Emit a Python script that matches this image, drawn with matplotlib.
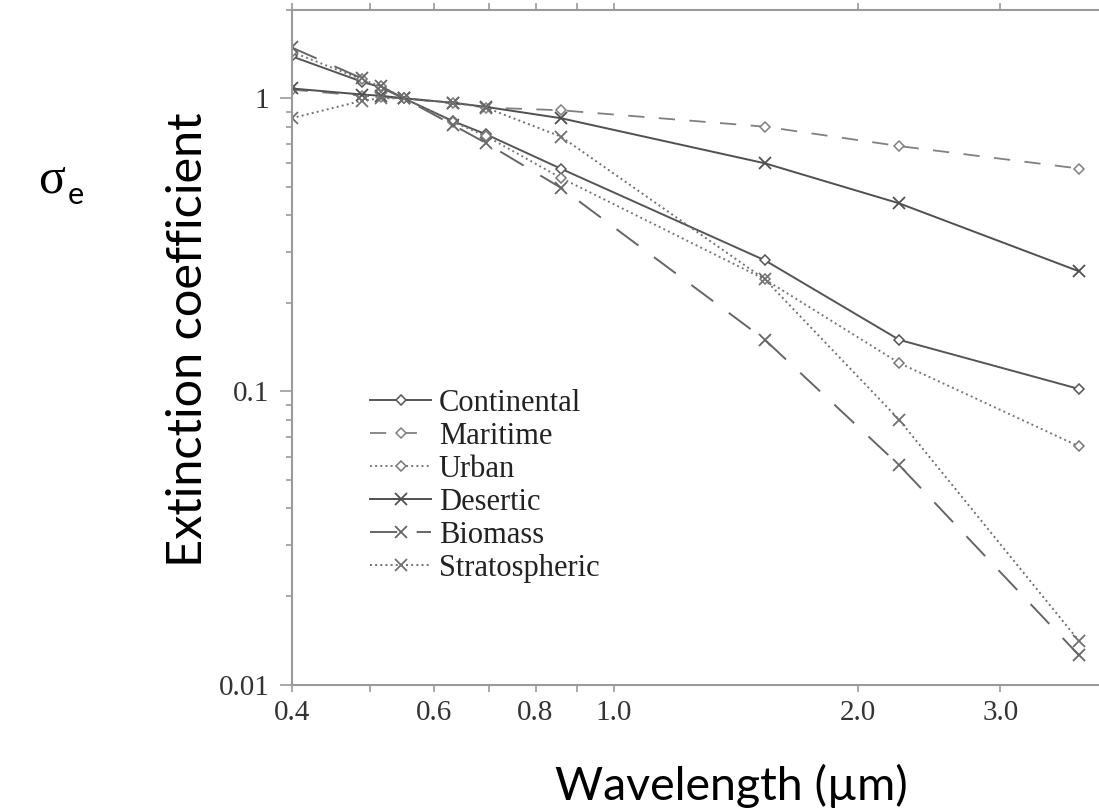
import numpy as np
import matplotlib.pyplot as plt
from matplotlib.ticker import FixedLocator, NullFormatter, LogLocator

# wavelengths (um) and normalized extinction coefficient per aerosol type
wavelength = [0.4, 0.488, 0.515, 0.55, 0.633, 0.694, 0.86, 1.536, 2.25, 3.75]
continental = [1.39, 1.14, 1.09, 1.0, 0.835, 0.755, 0.575, 0.28, 0.15, 0.102]
maritime = [1.07, 1.02, 1.01, 1.0, 0.96, 0.93, 0.91, 0.80, 0.687, 0.576]
urban = [1.44, 1.16, 1.10, 1.0, 0.83, 0.745, 0.535, 0.241, 0.125, 0.065]
desertic = [1.08, 1.03, 1.02, 1.0, 0.965, 0.935, 0.855, 0.60, 0.438, 0.257]
biomass = [1.49, 1.17, 1.10, 1.0, 0.81, 0.705, 0.495, 0.15, 0.056, 0.0126]
stratospheric = [0.855, 0.98, 1.0, 1.0, 0.965, 0.93, 0.74, 0.241, 0.080, 0.0141]

xticks = [0.4, 0.6, 0.8, 1.0, 2.0, 3.0]
xtick_labels = ['0.4', '0.6', '0.8', '1.0', '2.0', '3.0']
xminor = [0.5, 0.7, 0.9]
yticks = [0.01, 0.1, 1]
ytick_labels = ['0.01', '0.1', '1']

serif = 'Liberation Serif'
sans = 'Lato'

fig = plt.figure(figsize=(10.99, 8.10), dpi=100)
ax = fig.add_axes([291.7 / 1099, 1 - 684.7 / 810, 810 / 1099, 674.7 / 810])

dia = dict(marker='D', markersize=5.5, markerfacecolor='white', markeredgewidth=1.1)
crs = dict(marker='x', markersize=8, markeredgewidth=1.3)

ax.plot(wavelength, continental, '-', color='#555555', lw=1.4, label='Continental', **dia)
ax.plot(wavelength, maritime, color='#808080', lw=1.3, dashes=(9, 8), label='Maritime', **dia)
ax.plot(wavelength, urban, ':', color='#777777', lw=1.4, label='Urban', **dia)
ax.plot(wavelength, desertic, '-', color='#505050', lw=1.4, label='Desertic', **crs)
ax.plot(wavelength, biomass, color='#666666', lw=1.4, dashes=(14, 10), label='Biomass', **crs)
ax.plot(wavelength, stratospheric, ':', color='#707070', lw=1.4, label='Stratospheric', **crs)

ax.set_xscale('log')
ax.set_yscale('log')
ax.set_xlim(0.4, 4.0)
ax.set_ylim(0.01, 2.0)

ax.xaxis.set_major_locator(FixedLocator(xticks))
ax.set_xticklabels(xtick_labels)
ax.xaxis.set_minor_locator(FixedLocator(xminor))
ax.xaxis.set_minor_formatter(NullFormatter())
ax.yaxis.set_major_locator(FixedLocator(yticks))
ax.set_yticklabels(ytick_labels)
ax.yaxis.set_minor_locator(LogLocator(base=10, subs=np.arange(2, 10)))
ax.yaxis.set_minor_formatter(NullFormatter())

for s in ax.spines.values():
    s.set_color('#9a9a9a')
    s.set_linewidth(1.5)

ax.tick_params(axis='x', which='both', direction='out', length=5, width=1.2,
               color='#9a9a9a', top=True, pad=6)
ax.tick_params(axis='y', which='major', direction='out', length=9, width=1.2,
               color='#9a9a9a', pad=7)
ax.tick_params(axis='y', which='minor', direction='out', length=4, width=1.2,
               color='#9a9a9a')
for lab in ax.get_xticklabels() + ax.get_yticklabels():
    lab.set_fontfamily(serif)
    lab.set_fontsize(21)
    lab.set_color('#333333')

leg = ax.legend(loc='upper left', bbox_to_anchor=(370 / 1099, 1 - 389 / 810),
                bbox_transform=fig.transFigure, frameon=False, borderpad=0,
                borderaxespad=0, handlelength=2.0, handletextpad=0.25,
                labelspacing=0.13, numpoints=1,
                prop={'family': serif, 'size': 22})
for t in leg.get_texts():
    t.set_color('#222222')

fig.text(188 / 1099, 1 - 340 / 810, 'Extinction coefficient', rotation=90,
         ha='center', va='center', fontsize=35, family=sans, color='black')
fig.text(731 / 1099, 1 - 786 / 810, 'Wavelength (\u00b5m)', ha='center',
         va='center', fontsize=33.5, family=sans, color='black')
fig.text(38 / 1099, 1 - 180 / 810, '\u03c3', ha='left', va='center',
         fontsize=36, family=serif, color='black')
fig.text(68 / 1099, 1 - 195 / 810, 'e', ha='left', va='center',
         fontsize=22, family=sans, color='black')

fig.savefig('out.png', dpi=100)
